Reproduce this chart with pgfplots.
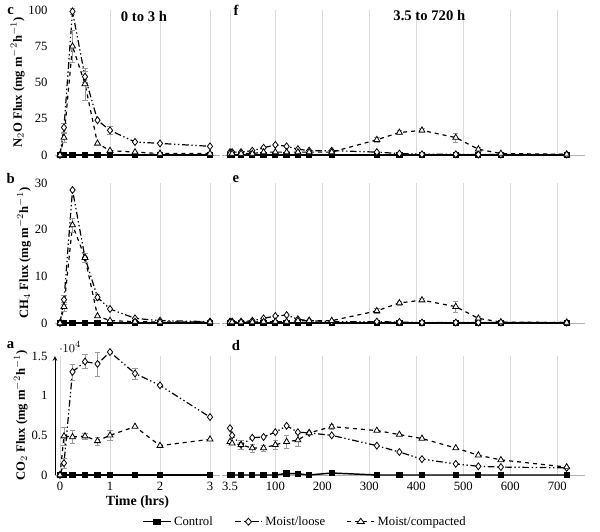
\documentclass[border=0pt]{standalone}
\usepackage{pgfplots}
\pgfplotsset{compat=1.18}
\usepackage{fontspec}
\setmainfont{Liberation Serif}
\pgfplotsset{
 base/.style={scale only axis, clip=false, axis x line=bottom, axis y line=left,
   x axis line style={gray!60,-}, y axis line style={draw=none}, xmajorgrids, grid style={gray!30},
   tick style={draw=none}, ticklabel style={font=\fontsize{9.5}{10}\selectfont},
   /pgf/number format/assume math mode=true, /pgf/number format/1000 sep={},
   xticklabels={}},
 L/.style={base, width=123.75pt, xmin=-0.1, xmax=3.2, xtick={1,2,3}},
 R/.style={base, width=272.25pt, xmin=-13.5, xmax=759, xtick={3.5,100,200,300,400,500,600,700}, ytick=\empty},
 ctl/.style={black, line width=1.1pt, mark=square*, mark size=1.8pt},
 loose/.style={black, line width=0.9pt, dash pattern=on 5pt off 2pt on 1pt off 2pt on 1pt off 2pt, mark=diamond*, mark options={solid,fill=white,line width=0.6pt}, mark size=2.6pt},
 comp/.style={black, line width=0.9pt, dashed, mark=triangle*, mark options={solid,fill=white,line width=0.6pt}, mark size=2.6pt},
 eb/.style={error bars/.cd, y dir=both, y explicit, error bar style={gray!80,solid,line width=0.5pt}, error mark options={gray!80,rotate=90,mark size=2pt,solid}},
 ylab/.style={ylabel style={font=\bfseries\fontsize{9.5}{10}\selectfont, yshift=-4pt}},
}
\begin{document}
\begin{tikzpicture}
\path[use as bounding box] (0,0) rectangle (450pt,-399pt);
% ---------- top left N2O
\begin{axis}[L, at={(41.25pt,-116.25pt)}, height=108.75pt, ymin=0, ymax=100, ytick={0,25,50,75,100}, ylab, ylabel={N$_2$O Flux (mg m$^{-2}$h$^{-1}$)}]
\addplot[ctl] coordinates {(0,0)(0.08,0)(0.25,0)(0.5,0)(0.75,0)(1,0)(1.5,0)(2,0)(3,0)};
\addplot[loose,eb] coordinates {(0,0)(0.08,19)+-(0,3)(0.25,99)+-(0,2)(0.5,54)+-(0,4)(0.75,24)(1,17)+-(0,3)(1.5,9)(2,8)(3,6)};
\addplot[comp,eb] coordinates {(0,0)(0.08,12)+-(0,3)(0.25,75)+-(0,11)(0.5,49)+-(0,11)(0.75,8)(1,3)(1.5,2)(2,1)(3,1)};
\end{axis}
% ---------- top right
\begin{axis}[R, at={(166.5pt,-116.25pt)}, height=108.75pt, ymin=0, ymax=100]
\addplot[ctl] coordinates {(3.5,0)(8,0)(27,0)(51,0)(75,0)(100,0)(124,0)(148,0)(172,0)(220,0)(316,0)(364,0)(412,0)(484,0)(532,0)(580,0)(720,0)};
\addplot[loose] coordinates {(3.5,2)(8,2)(27,2)(51,3)(75,5)(100,7)(124,6)(148,4)(172,3)(220,3)(316,2)(364,1)(412,0.5)(484,0.5)(532,0.3)(580,0.3)(720,0.3)};
\addplot[comp,eb] coordinates {(3.5,1)(8,1)(27,1)(51,1)(75,2)(100,2)(124,2)(148,2)(172,2)(220,2)(316,10.5)+-(0,1.5)(364,15.5)+-(0,1.5)(412,17)+-(0,1.5)(484,12)+-(0,3)(532,4)+-(0,1.5)(580,1)(720,0.5)};
\end{axis}
% ---------- middle left CH4
\begin{axis}[L, at={(41.25pt,-242.25pt)}, height=105pt, ymin=0, ymax=30, ytick={0,10,20,30}, ylab, ylabel={CH$_4$ Flux (mg m$^{-2}$h$^{-1}$)}]
\addplot[ctl] coordinates {(0,0)(0.08,0)(0.25,0)(0.5,0)(0.75,0)(1,0)(1.5,0)(2,0)(3,0)};
\addplot[loose,eb] coordinates {(0,0)(0.08,5)+-(0,1)(0.25,28.5)(0.5,14)+-(0,1)(0.75,5.5)+-(0,0.7)(1,3)(1.5,1)(2,0.5)(3,0.3)};
\addplot[comp,eb] coordinates {(0,0)(0.08,3.5)+-(0,1)(0.25,21)+-(0,1.5)(0.5,14)+-(0,1)(0.75,1.5)(1,0.5)(1.5,0.3)(2,0.2)(3,0.2)};
\end{axis}
\begin{axis}[R, at={(166.5pt,-242.25pt)}, height=105pt, ymin=0, ymax=30]
\addplot[ctl] coordinates {(3.5,0)(8,0)(27,0)(51,0)(75,0)(100,0)(124,0)(148,0)(172,0)(220,0)(316,0)(364,0)(412,0)(484,0)(532,0)(580,0)(720,0)};
\addplot[loose] coordinates {(3.5,0.3)(8,0.3)(27,0.3)(51,0.5)(75,1)(100,1.5)(124,1.7)(148,0.8)(172,0.5)(220,0.3)(316,0.3)(364,0.2)(412,0.1)(484,0.1)(532,0.1)(580,0.1)(720,0.1)};
\addplot[comp,eb] coordinates {(3.5,0.2)(8,0.2)(27,0.2)(51,0.2)(75,0.3)(100,0.3)(124,0.3)(148,0.5)(172,0.5)(220,0.5)(316,2.6)+-(0,0.5)(364,4.3)+-(0,0.4)(412,4.9)+-(0,0.3)(484,3.5)+-(0,1.2)(532,1)+-(0,0.4)(580,0.2)(720,0.1)};
\end{axis}
% ---------- bottom CO2
\begin{axis}[L, at={(41.25pt,-356.25pt)}, height=89.25pt, ymin=0, ymax=15000, ytick={0,5000,10000,15000}, xtick={0,1,2,3}, xticklabels={0,1,2,3}, ylab, ylabel={CO$_2$ Flux (mg m$^{-2}$h$^{-1}$)}, xlabel={Time (hrs)}, xlabel style={font=\bfseries\fontsize{10.5}{11}\selectfont, yshift=3pt}, y axis line style={draw=black,line width=0.6pt}]
\addplot[ctl] coordinates {(0,0)(0.08,0)(0.25,0)(0.5,0)(0.75,0)(1,0)(1.5,0)(2,0)(3,0)};
\addplot[loose,eb] coordinates {(0,0)(0.08,1500)+-(0,600)(0.25,13000)+-(0,1000)(0.5,14300)+-(0,900)(0.75,14000)+-(0,1500)(1,15500)(1.5,12800)+-(0,700)(2,11300)(3,7300)};
\addplot[comp,eb] coordinates {(0,0)(0.08,4900)+-(0,1100)(0.25,4800)+-(0,800)(0.5,4900)+-(0,400)(0.75,4300)+-(0,500)(1,5000)+-(0,600)(1.5,6100)(2,3700)(3,4500)};
\end{axis}
\begin{axis}[R, at={(166.5pt,-356.25pt)}, height=89.25pt, ymin=0, ymax=15000, xticklabels={3.5,100,200,300,400,500,600,700},
  legend columns=3, legend style={draw=none, at={(0.23,-0.3)}, anchor=north, font=\fontsize{9.5}{10}\selectfont, /tikz/every even column/.append style={column sep=14pt}}, legend image post style={xscale=1.2}]
\addplot[ctl] coordinates {(3.5,0)(8,0)(27,0)(51,0)(75,0)(100,0)(124,200)(148,150)(172,0)(220,250)(316,0)(364,0)(412,0)(484,0)(532,0)(580,0)(720,0)};
\addplot[loose] coordinates {(3.5,5900)(8,5000)(27,3800)(51,4700)(75,4800)(100,5400)(124,6200)(148,5400)(172,5300)(220,5000)(316,3700)(364,2900)(412,2000)(484,1400)(532,1100)(580,1000)(720,900)};
\addplot[comp,eb] coordinates {(3.5,4200)(8,4000)(27,3800)+-(0,600)(51,3400)+-(0,500)(75,3400)+-(0,400)(100,3800)+-(0,600)(124,4200)+-(0,800)(148,4400)+-(0,800)(172,5300)(220,6100)+-(0,300)(316,5600)(364,5100)(412,4600)(484,3400)(532,2500)(580,1900)(720,1000)};
\legend{Control,Moist/loose,Moist/compacted}
\end{axis}
% labels
\node[font=\bfseries\fontsize{11}{12}\selectfont] at (8pt,-8pt) {c};
\node[font=\bfseries\fontsize{11}{12}\selectfont] at (8pt,-134pt) {b};
\node[font=\bfseries\fontsize{11}{12}\selectfont] at (8pt,-259pt) {a};
\node[font=\bfseries\fontsize{11}{12}\selectfont] at (177pt,-8pt) {f};
\node[font=\bfseries\fontsize{11}{12}\selectfont] at (177pt,-134pt) {e};
\node[font=\bfseries\fontsize{11}{12}\selectfont] at (177pt,-259pt) {d};
\node[font=\bfseries\fontsize{11}{12}\selectfont] at (108pt,-12pt) {0 to 3 h};
\node[font=\bfseries\fontsize{11}{12}\selectfont] at (322pt,-12pt) {3.5 to 720 h};
\end{tikzpicture}
\end{document}
